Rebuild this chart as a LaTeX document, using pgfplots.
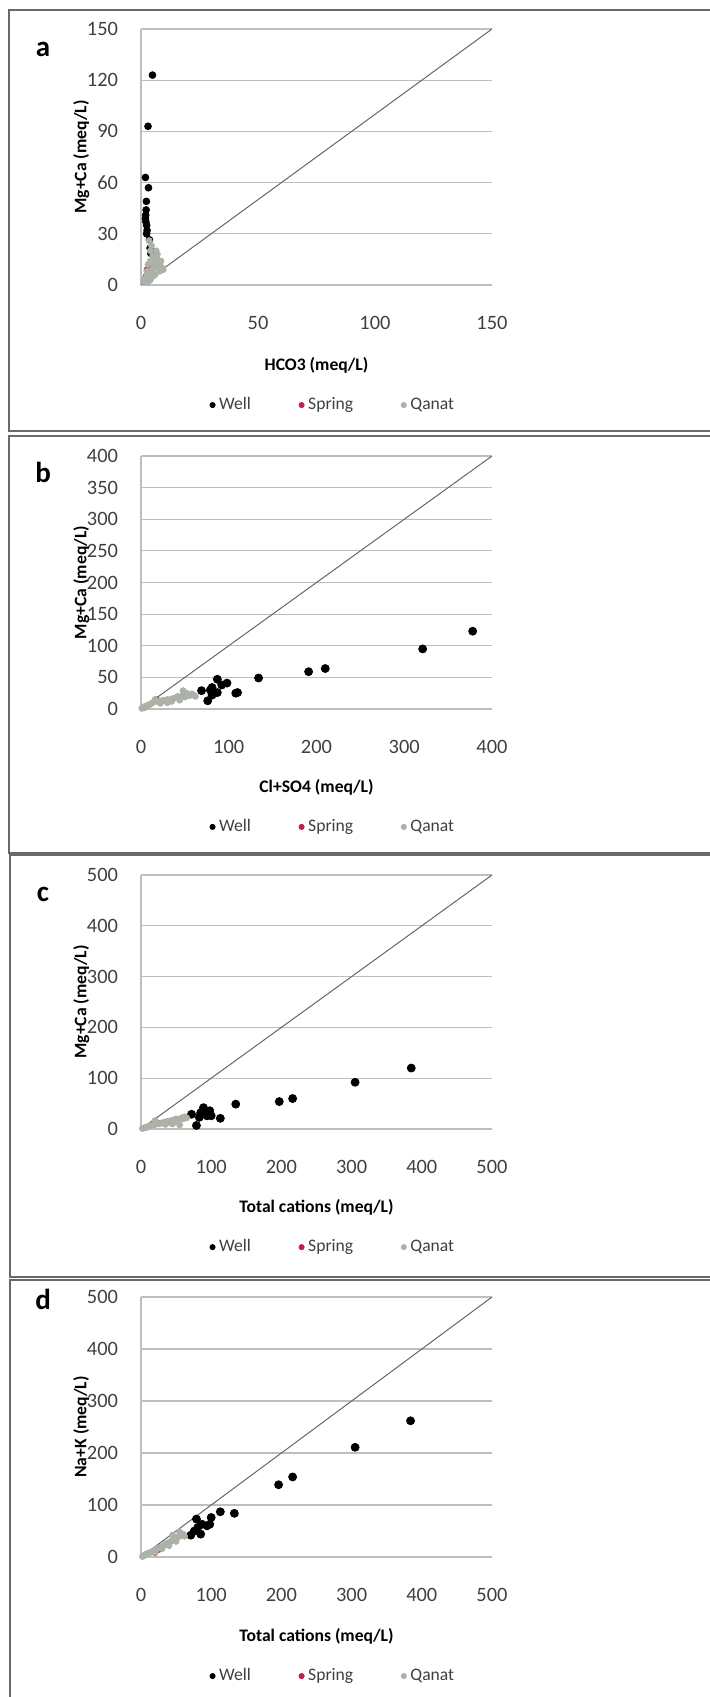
\documentclass[border=0pt]{standalone}
\usepackage{fontspec}
\setmainfont{Carlito}
\usepackage{pgfplots}
\pgfplotsset{compat=1.18}

\definecolor{springc}{RGB}{200,30,70}
\definecolor{qanatc}{RGB}{172,178,168}
\definecolor{gridc}{RGB}{190,190,190}
\definecolor{framec}{RGB}{105,105,105}

\tikzset{plabel/.style={font=\bfseries\fontsize{14.5}{15}\selectfont}}

\pgfplotsset{
  panel/.style={
    scale only axis, width=175.5pt,
    axis lines=left, axis line style={-},
    x axis line style={draw=none},
    y axis line style={draw=gridc, line width=0.6pt},
    major tick length=0pt,
    ymajorgrids, grid style={gridc, line width=0.6pt},
    xmin=0, ymin=0, clip=false,
    /pgf/number format/assume math mode=true,
    tick label style={font=\fontsize{10.2}{11}\selectfont, text=black!75},
    xticklabel style={anchor=center, yshift=-19pt},
    yticklabel style={anchor=east, xshift=-8pt},
    label style={font=\bfseries\fontsize{8.8}{10}\selectfont},
    ylabel style={at={(axis description cs:-0.17,0.5)}, anchor=center},
    legend style={draw=none, fill=none, legend columns=3, anchor=center,
      font=\fontsize{8.8}{10}\selectfont, text=black!75,
      /tikz/every even column/.append style={column sep=22pt}},
    legend image code/.code={\draw[##1, mark size=1.3pt] plot coordinates {(2pt,0pt)};},
  },
  well/.style={only marks, mark=*, mark size=2pt, color=black},
  spring/.style={only marks, mark=*, mark size=1.4pt, color=springc},
  qanat/.style={only marks, mark=*, mark size=1.5pt, color=qanatc},
  oneone/.style={forget plot, no marks, color=black!60, line width=0.5pt},
}

\begin{document}
\begin{tikzpicture}
\useasboundingbox (0,0) rectangle (355pt,-848.5pt);
% panel frames
\draw[framec, line width=0.8pt] (4.5pt,-215.5pt) rectangle (360pt,-5pt);
\draw[framec, line width=0.8pt] (4.5pt,-426.5pt) rectangle (360pt,-218pt);
\draw[framec, line width=0.8pt] (5pt,-638.5pt) rectangle (360pt,-427.5pt);
\draw[framec, line width=0.8pt] (5pt,-852pt) rectangle (360pt,-640pt);

% ---------- a ----------
\begin{axis}[panel, at={(70.5pt,-142.5pt)}, anchor=south west, height=128pt,
  xmax=150, ymax=150, xtick={0,50,100,150}, ytick={0,30,...,150},
  xlabel={HCO3 (meq/L)}, ylabel={Mg+Ca (meq/L)},
  xlabel style={at={(axis description cs:0.5,-0.3125)}, anchor=center},
  legend style={at={(axis description cs:0.55,-0.469)}}]
\addplot[oneone] coordinates {(0,0) (150,150)};
\addplot[well, mark size=1.7pt] coordinates {
 (4.9,123) (3.0,93) (1.9,63) (3.2,57) (2.3,49) (2.2,44) (2.0,41) (1.9,39)
 (2.1,37) (2.4,35) (2.6,32) (2.4,30) (3.6,26.5) (3.9,21.6) (4.2,18.5)};
\addplot[spring] coordinates {(2.5,9) (3.0,7) (2.0,5) (4.0,11)};
\addplot[qanat] coordinates {
 (1,2) (1.5,3) (2,4) (2.5,5) (3,6) (3.5,7) (4,8) (5,9) (6,10) (7,11) (8,12)
 (6,14) (5,17) (4,20) (4.5,23) (3.5,26) (7,15) (8,8) (9,10) (6,6) (5,5) (4,3)
 (3,2) (2,1.5) (7,18) (6.5,20) (5.5,12) (8.5,14) (9.5,9) (3,12) (4,14) (2.5,8)};
\legend{Well, Spring, Qanat}
\node[plabel] at (axis description cs:-0.279,0.922) {a};
\end{axis}

% ---------- b ----------
\begin{axis}[panel, at={(70.5pt,-354.5pt)}, anchor=south west, height=126.5pt,
  xmax=400, ymax=400, xtick={0,100,...,400}, ytick={0,50,...,400},
  xlabel={Cl+SO4 (meq/L)}, ylabel={Mg+Ca (meq/L)},
  xlabel style={at={(axis description cs:0.5,-0.308)}, anchor=center},
  legend style={at={(axis description cs:0.55,-0.466)}}]
\addplot[oneone] coordinates {(0,0) (400,400)};
\addplot[well] coordinates {
 (378,123) (321,95) (210,64) (191,59) (134,49) (110,26) (108,25) (98,41)
 (92,38) (87,47) (81,34) (87,26) (79,30) (69,29) (76,13) (81,22)};
\addplot[spring] coordinates {(18,15) (26,13) (30,12)};
\addplot[qanat] coordinates {
 (1,1) (2,2) (3,3) (4,2) (5,4) (6,5) (8,6) (10,7) (12,9) (15,11) (18,13)
 (20,12) (25,14) (28,13) (30,15) (35,16) (38,17) (40,18) (42,20) (45,17)
 (48,22) (50,19) (52,25) (55,21) (58,24) (60,22) (62,20) (48,29) (35,12)
 (22,9) (16,15) (30,10) (44,14)};
\legend{Well, Spring, Qanat}
\node[plabel] at (axis description cs:-0.279,0.937) {b};
\end{axis}

% ---------- c ----------
\begin{axis}[panel, at={(70.5pt,-564.5pt)}, anchor=south west, height=127pt,
  xmax=500, ymax=500, xtick={0,100,...,500}, ytick={0,100,...,500},
  xlabel={Total cations (meq/L)}, ylabel={Mg+Ca (meq/L)},
  xlabel style={at={(axis description cs:0.5,-0.307)}, anchor=center},
  legend style={at={(axis description cs:0.55,-0.465)}}]
\addplot[oneone] coordinates {(0,0) (500,500)};
\addplot[well] coordinates {
 (385,120) (305,92) (216,60) (197,54) (135,49) (113,21) (72,29) (79,7)
 (85,32) (89,42) (94,26) (100,26) (98,36) (83,23) (90,30)};
\addplot[spring] coordinates {(20,16) (25,12)};
\addplot[qanat] coordinates {
 (2,1) (4,2) (6,3) (8,3) (10,5) (12,6) (15,7) (18,8) (20,9) (22,12) (25,10)
 (28,11) (30,12) (33,13) (35,14) (38,15) (40,13) (42,16) (45,17) (48,18)
 (50,20) (52,16) (55,19) (58,22) (60,20) (62,24) (65,22) (55,8) (45,10)
 (35,9) (20,16)};
\legend{Well, Spring, Qanat}
\node[plabel] at (axis description cs:-0.279,0.925) {c};
\end{axis}

% ---------- d ----------
\begin{axis}[panel, at={(70.5pt,-778.5pt)}, anchor=south west, height=130pt,
  xmax=500, ymax=500, xtick={0,100,...,500}, ytick={0,100,...,500},
  xlabel={Total cations (meq/L)}, ylabel={Na+K (meq/L)},
  xlabel style={at={(axis description cs:0.5,-0.304)}, anchor=center},
  legend style={at={(axis description cs:0.55,-0.458)}}]
\addplot[oneone] coordinates {(0,0) (500,500)};
\addplot[well] coordinates {
 (384,262) (305,211) (216,154) (196,139) (133,84) (113,87) (100,76) (98,63)
 (94,60) (85,44) (79,73) (81,57) (76,50) (71,42) (87,63)};
\addplot[spring] coordinates {(20,8) (25,14)};
\addplot[qanat] coordinates {
 (2,1) (4,3) (6,4) (8,6) (10,7) (12,8) (15,10) (18,12) (20,13) (22,15) (25,17)
 (28,19) (30,20) (33,22) (35,25) (38,27) (40,28) (42,30) (45,32) (48,34)
 (50,36) (52,38) (55,40) (58,42) (60,44) (62,40) (50,30) (40,22) (30,16)
 (20,9) (45,42) (55,48)};
\legend{Well, Spring, Qanat}
\node[plabel] at (axis description cs:-0.279,0.992) {d};
\end{axis}
\end{tikzpicture}
\end{document}
